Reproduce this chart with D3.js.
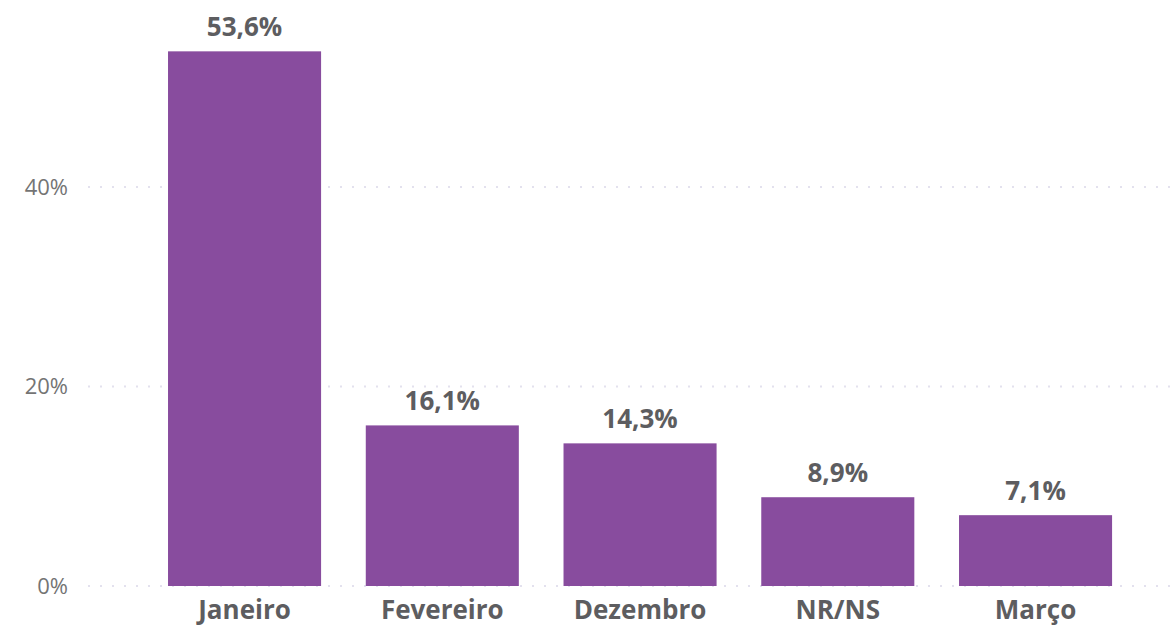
<!DOCTYPE html>
<html>
<head>
<meta charset="utf-8">
<script src="https://cdn.jsdelivr.net/npm/d3@7"></script>
<style>
  body { margin: 0; background: #fff; }
  svg { display: block; font-family: "Open Sans", "Noto Sans", sans-serif; }
</style>
</head>
<body>
<div id="chart"></div>
<script>
var categories = ['Janeiro', 'Fevereiro', 'Dezembro', 'NR/NS', 'Março'];
var values = [53.6, 16.1, 14.3, 8.9, 7.1];
var yTicks = [0, 20, 40];

var width = 1176, height = 628;

var svg = d3.select('#chart')
    .append('svg')
    .attr('width', width)
    .attr('height', height);

var y = d3.scaleLinear()
    .domain([0, 20])
    .range([586, 386.5]);

var x = d3.scaleBand()
    .domain(categories)
    .range([108.7, 1171.4])
    .paddingInner(0.226)
    .paddingOuter(0.3);

// dotted gridlines
svg.selectAll('.grid')
    .data(yTicks)
    .enter().append('line')
    .attr('class', 'grid')
    .attr('x1', 88)
    .attr('x2', 1176)
    .attr('y1', function(d){ return y(d) })
    .attr('y2', function(d){ return y(d) })
    .attr('stroke', '#e3e1ee')
    .attr('stroke-width', 2)
    .attr('stroke-dasharray', '2,10');

// y tick labels
svg.selectAll('.ytick')
    .data(yTicks)
    .enter().append('text')
    .attr('class', 'ytick')
    .attr('x', 68)
    .attr('y', function(d){ return y(d) })
    .attr('dy', '0.35em')
    .attr('text-anchor', 'end')
    .attr('font-size', 22)
    .attr('fill', '#747474')
    .text(function(d){ return d + '%' });

var data = categories.map(function(c, i){ return {cat: c, val: values[i]} });

svg.selectAll('.bar')
    .data(data)
    .enter().append('rect')
    .attr('class', 'bar')
    .attr('x', function(d){ return x(d.cat) })
    .attr('width', x.bandwidth())
    .attr('y', function(d){ return y(d.val) })
    .attr('height', function(d){ return y(0) - y(d.val) })
    .attr('fill', '#884c9e');

svg.selectAll('.label')
    .data(data)
    .enter().append('text')
    .attr('class', 'label')
    .attr('x', function(d){ return x(d.cat) + x.bandwidth() / 2 })
    .attr('y', function(d){ return y(d.val) - 15 })
    .attr('text-anchor', 'middle')
    .attr('font-size', 26)
    .attr('font-weight', 'bold')
    .attr('fill', '#5d5d60')
    .text(function(d){ return d.val.toFixed(1).replace('.', ',') + '%' });

svg.selectAll('.xlabel')
    .data(categories)
    .enter().append('text')
    .attr('class', 'xlabel')
    .attr('x', function(d){ return x(d) + x.bandwidth() / 2 })
    .attr('y', 619)
    .attr('text-anchor', 'middle')
    .attr('font-size', 26)
    .attr('font-weight', 'bold')
    .attr('fill', '#5d5d60')
    .text(function(d){ return d });
</script>
</body>
</html>
